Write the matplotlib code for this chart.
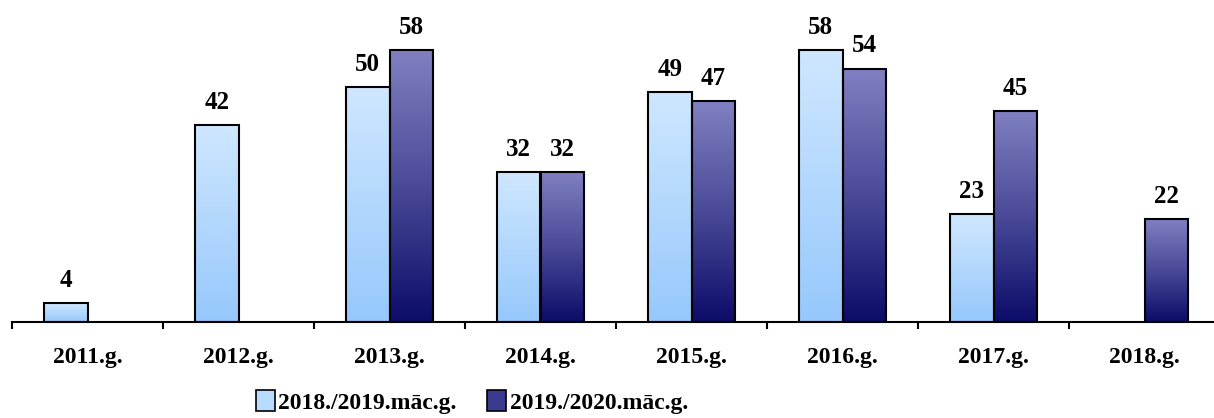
import numpy as np
import matplotlib.pyplot as plt
from matplotlib.colors import LinearSegmentedColormap
from matplotlib.patches import Patch

plt.rcParams.update({
    "font.family": "serif",
    "font.serif": ["Liberation Serif", "DejaVu Serif"],
    "font.weight": "bold",
})

years = ["2011.g.", "2012.g.", "2013.g.", "2014.g.", "2015.g.", "2016.g.", "2017.g.", "2018.g."]
s1_name = "2018./2019.māc.g."
s2_name = "2019./2020.māc.g."
s1_vals = [4, 42, 50, 32, 49, 58, 23, None]
s2_vals = [None, None, 58, 32, 47, 54, 45, 22]

LIGHT = LinearSegmentedColormap.from_list("light", ["#96c8fc", "#cfe7ff"])
DARK = LinearSegmentedColormap.from_list("dark", ["#0c0c6a", "#4a4a98", "#8080c2"])

W, H = 1214, 418
fig = plt.figure(figsize=(W / 100, H / 100), dpi=100)
ax = fig.add_axes([12 / W, 96 / H, 1208 / W, 322 / H])

x = np.arange(len(years))
bw = 0.288
grad = np.linspace(0, 1, 256).reshape(-1, 1)


def draw(vals, offset, cmap):
    for xi, v in zip(x, vals):
        if v is None:
            continue
        bar = ax.bar(xi + offset, v, bw, facecolor="none", edgecolor="black", linewidth=1.5, zorder=3)[0]
        im = ax.imshow(grad, cmap=cmap, origin="lower", aspect="auto",
                       extent=[xi + offset - bw / 2, xi + offset + bw / 2, 0, v], zorder=2)
        im.set_clip_path(bar)
        ax.annotate(str(v), (xi + offset, v), xytext=(0, 8), textcoords="offset points",
                    ha="center", va="bottom", fontsize=18, fontweight="bold")


draw(s1_vals, -bw / 2, LIGHT)
draw(s2_vals, bw / 2, DARK)

ax.set_xlim(-0.5, 7.5)
ax.set_ylim(0, 68.6)
for sp in ["top", "right", "left"]:
    ax.spines[sp].set_visible(False)
ax.spines["bottom"].set_linewidth(1.5)
ax.set_yticks([])
ax.set_xticks(np.arange(-0.5, 7.5, 1))
ax.set_xticklabels([])
ax.tick_params(axis="x", which="major", length=5, width=1.5, direction="out")
ax.set_xticks(x, minor=True)
ax.set_xticklabels(years, minor=True, fontsize=17, fontweight="bold")
ax.tick_params(axis="x", which="minor", length=0, pad=18)

handles = [Patch(facecolor="#b8dcff", edgecolor="black", linewidth=1.2, label=s1_name),
           Patch(facecolor="#3a3a8e", edgecolor="black", linewidth=1.2, label=s2_name)]
fig.legend(handles=handles, loc="center", bbox_to_anchor=(472 / W, 1 - 402 / H), ncol=2,
           frameon=False, prop={"size": 17, "weight": "bold"}, handlelength=0.8, handleheight=1.0,
           handletextpad=0.15, columnspacing=1.3)

fig.savefig("out.png", dpi=100)
